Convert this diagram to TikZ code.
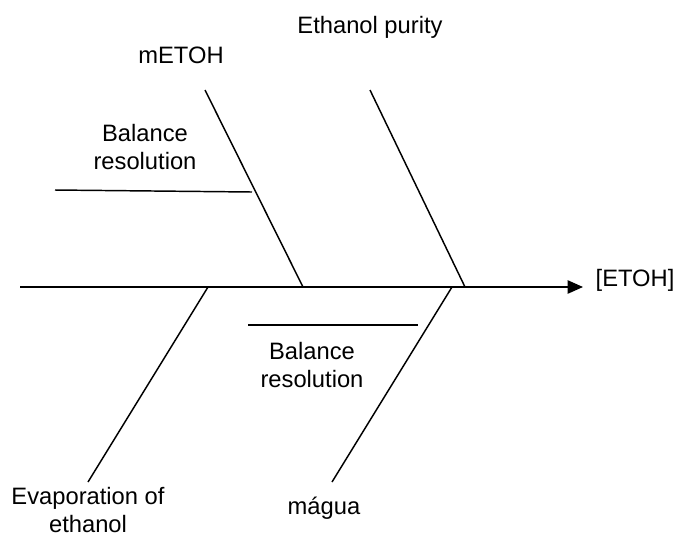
\documentclass[tikz,border=0pt]{standalone}
\usepackage{fontspec}
\setmainfont{Liberation Sans}
\usetikzlibrary{arrows.meta}
\begin{document}
\begin{tikzpicture}[x=0.75pt,y=-0.75pt,
  lbl/.style={font=\fontsize{17.8}{21}\selectfont,align=center,inner sep=0pt},
  bone/.style={line width=1.1pt,black}]
\useasboundingbox (0,0) rectangle (676,537);
% coordinates
\coordinate (mL) at (20,287);
\coordinate (mR) at (583,287);
\coordinate (aT) at (205,90);  \coordinate (aB) at (303,287);
\coordinate (bT) at (370,90);  \coordinate (bB) at (465,287);
\coordinate (cT) at (208,287); \coordinate (cB) at (88,482);
\coordinate (dT) at (452,287); \coordinate (dB) at (332,482);
\coordinate (s1L) at (55,190); \coordinate (s1R) at (252,192);
\coordinate (s2L) at (248,325); \coordinate (s2R) at (418,325);
% labels
\node[lbl] (etoh) at (635,280) {[ETOH]};
\node[lbl] (metoh) at (181,55) {mETOH};
\node[lbl] (pur) at (370,27) {Ethanol purity};
\node[lbl] (bal1) at (145,147) {Balance\\resolution};
\node[lbl] (bal2) at (312,365) {Balance\\resolution};
\node[lbl] (evap) at (88,510) {Evaporation of\\ethanol};
\node[lbl] (magua) at (324,508) {mágua};
% bones
\draw[bone,-{Triangle[length=11.5pt,width=10pt]}] (mL) -- (mR);
\draw[bone] (aT) -- (aB);
\draw[bone] (bT) -- (bB);
\draw[bone] (cT) -- (cB);
\draw[bone] (dT) -- (dB);
\draw[bone] (s1L) -- (s1R);
\draw[bone] (s2L) -- (s2R);
\end{tikzpicture}
\end{document}
